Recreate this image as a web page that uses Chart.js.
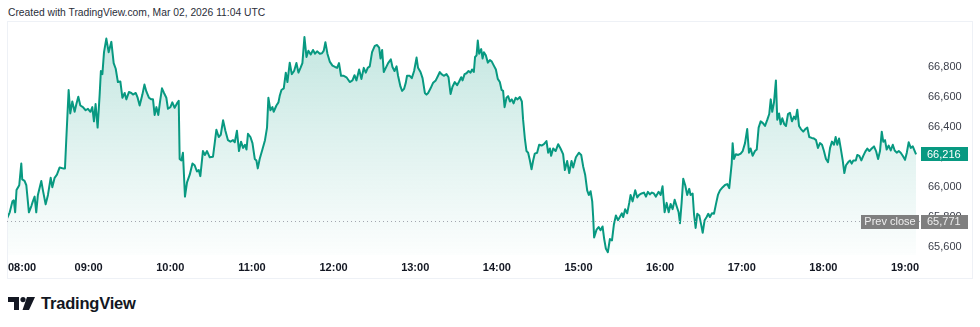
<!DOCTYPE html>
<html>
<head>
<meta charset="utf-8">
<script src="https://cdn.jsdelivr.net/npm/chart.js@4.4.1/dist/chart.umd.min.js"></script>
<style>
  html, body { margin: 0; padding: 0; background: #fff; }
  body { width: 980px; height: 327px; position: relative; overflow: hidden; font-family: "Liberation Sans", Arial, sans-serif; }
  #title { position: absolute; left: 8px; top: 6px; font-size: 10.3px; line-height: 13px; color: #2a2e39; white-space: nowrap; }
  #pane { position: absolute; left: 0; top: 21px; width: 980px; height: 258px; }
  #logo { position: absolute; left: 8px; top: 293px; height: 20px; display: flex; align-items: center; }
  #logo svg { margin-right: 6px; }
  #logo span { font-size: 16.5px; font-weight: bold; color: #131722; letter-spacing: -0.2px; }
</style>
</head>
<body>
<div id="title">Created with TradingView.com, Mar 02, 2026 11:04 UTC</div>
<div id="pane"><canvas id="chart" width="980" height="258"></canvas></div>
<div id="logo">
  <svg width="27" height="13" viewBox="0 0 27 13">
    <path d="M0 0H11V13H6V5H0Z" fill="#131722"/>
    <circle cx="15" cy="2.6" r="2.6" fill="#131722"/>
    <path d="M19 0H27L21 13H14.5Z" fill="#131722"/>
  </svg>
  <span>TradingView</span>
</div>
<script>
// minutes after 08:00 and last price at that minute
const minutes = [0,2,4,5,6,7,9,10.5,11.2,12.9,
  14.2,16.1,17.9,19,20.3,21.5,22.7,25.2,26.4,28.4,
  30.1,32.1,33.3,35,36.7,38.7,41.1,42.6,43.6,45.3,
  46.5,48,49.7,51,52.4,53.9,55.8,57.8,59.5,61.3,
  62.7,63.9,65.1,66.6,68.1,69,70.1,71.3,73,74.7,
  76.7,78.4,79.9,81.5,83.3,84.8,86.5,87.7,89.6,91.4,
  92.6,94.6,96,97.5,99.5,101,102.4,104.3,106.1,107.3,
  108.5,109.8,111.2,112.4,113.9,115.4,117.1,118.3,120.1,121.5,
  123.2,124.9,126.2,126.9,128.2,129.3,130.8,132.3,134.3,136.3,
  137.9,139.6,140.9,142.1,144,145.5,147,149,151.4,153.9,
  155.6,157.1,158.8,160.5,162.4,164.2,166.1,167.4,169,170.5,
  172,173.5,174.9,176,177.1,178.9,180.4,182.1,183.3,184.3,
  185.7,187.7,189.6,191.1,192.1,193.6,195.1,196,198,199.5,
  200.4,201.7,203.4,204.9,206.1,207.8,209.3,211,212.7,214.2,
  215.7,217.1,218.6,220.1,221.5,223.2,224.9,226.4,227.9,229.9,
  231.5,232.8,234,235.5,237.2,239.2,241.1,242.6,244,245.5,
  247.5,249.5,251.9,253.9,255.4,256.8,258.8,260.5,262.2,263.7,
  265.1,266.6,268.3,270.3,272,273.5,274.5,275.7,276.9,278.4,
  280.1,282.1,283.3,284.8,286.3,287.4,289.2,290.4,291.8,293.1,
  294,296,297.5,299.2,301,302.1,303.9,305.4,307.1,308.3,
  309.5,311.3,313.2,315.1,316.8,318.1,319.3,321,323,324.5,
  326,327.4,329.1,330.8,332.3,333.8,334.8,336.3,337.7,339.2,
  340.7,341.8,343.1,344,345.1,346,347,348.5,349.5,350.5,
  351.9,353.4,354.9,356.3,357.8,359.3,360.7,362.2,363.5,364.6,
  365.7,367.1,368.3,369.6,371,372.3,373.8,375.2,376.9,378.4,
  379.3,380.6,381.8,383,384.3,385.5,386.7,387.9,389.6,391.1,
  392.9,394.6,396.5,397.7,399,399.9,401.4,403.2,405.1,406.8,
  408.7,410,411.7,413.2,414.9,416.1,418.1,420.3,422,423.5,
  424.9,426.4,427.6,428.9,430.1,430.8,431.5,433.3,434.8,436.2,
  437.7,438.9,440.1,441.6,443.1,444.6,446,447.5,449,450.4,
  451.9,452.9,454.3,455.8,457.3,458.3,459.8,461.7,463.2,464.6,
  466.4,468.1,469.6,471,472.5,474,475.4,476.9,478.9,480.4,
  481.8,483.3,484.8,486.3,487.7,489.2,490.7,492.1,493.6,494.6,
  495.8,497,498.5,499.9,501.4,502.4,503.9,504.9,506.1,507.3,
  508.8,510.2,511.3,512.7,514.2,515.4,516.6,518.1,519.6,521,
  522.5,524,526,527.7,529.3,530.8,532.6,533.3,534.3,535.7,
  537.4,539.2,540.7,542.4,544,545.3,546.5,548,549.7,551,
  552.4,553.9,555.4,557.1,558.8,560.2,561.3,562.4,563.7,565.1,
  566.1,567.4,568.6,569.8,571.3,572.5,574,575.4,576.9,578.4,
  579.6,580.8,582.1,583.5,585.2,586.7,588.2,589.6,591.4,593.1,
  594.6,596,597.5,599,600.4,601.9,603.4,604.9,606.3,607.8,
  609,610.2,611.5,612.7,614.2,615.4,616.6,618.3,619.6,620.8,
  622,623.8,624.9,626.4,627.9,629.3,630.8,632.3,633.8,635.5,
  637.2,638.7,640.2,641.6,642.9,644,645.3,646.5,648,649.5,
  651,652.4,653.9,655.4,656.8,658.3,660,661.3,662.7,664.2,
  665.7,666.9,668.1];

const prices = [65787,65829,65902,65909,65829,65978,66010,66155,66049,66039,
  66010,65829,65871,65902,65934,65829,65945,66039,65976,65882,
  65945,66060,65997,66060,66081,66129,66123,66123,66323,66648,
  66491,66571,66502,66554,66602,66544,66533,66512,66522,66502,
  66533,66438,66554,66396,66617,66775,66754,66901,66992,66901,
  66970,66828,66790,66701,66705,66596,66628,66585,66634,66628,
  66617,66628,66596,66544,66617,66684,66638,66596,66585,66585,
  66481,66533,66481,66565,66659,66628,66596,66522,66533,66565,
  66529,66558,66575,66186,66176,66228,65934,66029,66081,66155,
  66144,66102,66112,66071,66239,66213,66239,66197,66201,66382,
  66333,66348,66445,66375,66312,66302,66312,66298,66375,66239,
  66302,66260,66281,66249,66355,66333,66292,66186,66176,66123,
  66186,66249,66312,66396,66596,66512,66533,66502,66544,66565,
  66607,66648,66659,66764,66701,66831,66754,66775,66828,66764,
  66796,66828,67002,66869,66911,66886,66916,66891,66907,66891,
  66894,66911,66968,66891,66838,66811,66802,66796,66828,66743,
  66743,66733,66701,66712,66747,66712,66785,66722,66796,66764,
  66796,66806,66901,66943,66949,66932,66859,66916,66768,66796,
  66828,66853,66802,66775,66806,66743,66670,66642,66655,66697,
  66743,66743,66727,66775,66865,66796,66768,66727,66628,66617,
  66628,66659,66697,66712,66743,66768,66754,66743,66754,66733,
  66621,66670,66701,66680,66705,66733,66712,66754,66760,66775,
  66764,66785,66768,66869,66880,66979,66891,66922,66859,66901,
  66880,66831,66848,66838,66811,66785,66722,66701,66648,66642,
  66533,66596,66607,66571,66585,66558,66596,66585,66601,66571,
  66449,66323,66239,66228,66176,66117,66176,66222,66228,66281,
  66276,66285,66306,66228,66256,66207,66256,66239,66285,66256,
  66218,66112,66172,66092,66172,66129,66197,66228,66213,66134,
  66081,65976,65945,65970,65902,65797,65661,65713,65730,65709,
  65734,65650,65587,65562,65650,65640,65745,65808,65776,65797,
  65822,65797,65850,65822,65892,65945,65902,65976,65928,65945,
  65955,65961,65934,65966,65949,65961,65955,65934,65966,65945,
  66003,65829,65892,65829,65885,65850,65913,65871,65829,65756,
  65892,66054,66008,65945,65986,65945,65955,65819,65724,65819,
  65808,65745,65692,65776,65797,65819,65797,65822,65819,65882,
  65945,65976,65997,66012,66018,65991,66155,66292,66186,66218,
  66213,66222,66239,66292,66386,66228,66256,66207,66239,66249,
  66396,66438,66428,66407,66449,66487,66585,66502,66565,66712,
  66449,66491,66418,66459,66418,66407,66487,66495,66438,66470,
  66453,66516,66407,66386,66369,66386,66396,66333,66327,66323,
  66312,66260,66292,66281,66239,66186,66165,66260,66302,66281,
  66333,66281,66323,66260,66176,66092,66144,66165,66176,66155,
  66176,66176,66213,66207,66176,66207,66235,66256,66239,66256,
  66270,66239,66186,66239,66369,66302,66312,66249,66276,66243,
  66281,66243,66228,66239,66228,66207,66180,66228,66298,66260,
  66270,66243,66216];

const hourTicks = [0, 60, 120, 180, 240, 300, 360, 420, 480, 540, 600, 660];
const hourLabels = ["08:00", "09:00", "10:00", "11:00", "12:00", "13:00", "14:00", "15:00", "16:00", "17:00", "18:00", "19:00"];
const priceTicks = [65600, 65800, 66000, 66200, 66400, 66600, 66800];
const prevClose = 65771;
const lastPrice = prices[prices.length - 1];

const GREEN = "#089981";
const GREY_TAG = "#7f7f7f";
const FONT = '"Liberation Sans", Arial, sans-serif';
const fmt = (v) => Math.round(v).toLocaleString("en-US");

// tags, prev close line, time labels and pane border
const overlay = {
  id: "overlay",
  afterDraw(chart) {
    const { ctx, chartArea } = chart;
    const xs = chart.scales.x;
    const ys = chart.scales.y;

    ctx.save();
    ctx.strokeStyle = "#eef1f6";
    ctx.lineWidth = 1;
    ctx.strokeRect(7.5, 0.5, 965, 257);

    // prev close dotted line
    const yPrev = Math.round(ys.getPixelForValue(prevClose)) + 0.5;
    ctx.strokeStyle = "#a3a6af";
    ctx.setLineDash([1, 3]);
    ctx.beginPath();
    ctx.moveTo(chartArea.left, yPrev);
    ctx.lineTo(chartArea.right, yPrev);
    ctx.stroke();
    ctx.setLineDash([]);

    ctx.font = "11px " + FONT;
    ctx.textBaseline = "middle";

    const tag = (x, y, w, bg, fg, text, align) => {
      ctx.fillStyle = bg;
      ctx.fillRect(x, Math.round(y - 7), w, 14);
      ctx.fillStyle = fg;
      ctx.textAlign = align;
      ctx.fillText(text, align === "left" ? x + 6 : x + w / 2, y + 0.5);
    };

    tag(861, yPrev, 58, GREY_TAG, "#eeeeee", "Prev close", "center");
    tag(921, yPrev, 47, GREY_TAG, "#eeeeee", fmt(prevClose), "left");
    tag(921, ys.getPixelForValue(lastPrice), 47, GREEN, "#ffffff", fmt(lastPrice), "left");

    // time axis labels, first one kept inside the pane
    ctx.font = "bold 11px " + FONT;
    ctx.fillStyle = "#131722";
    ctx.textAlign = "center";
    hourTicks.forEach((t, i) => {
      const w = ctx.measureText(hourLabels[i]).width;
      let px = xs.getPixelForValue(t);
      if (px - w / 2 < chartArea.left + 1) px = chartArea.left + 1 + w / 2;
      ctx.fillText(hourLabels[i], px, chartArea.bottom + 13);
    });
    ctx.restore();
  },
};

const canvas = document.getElementById("chart");
new Chart(canvas, {
  type: "line",
  data: {
    datasets: [
      {
        data: minutes.map((m, i) => ({ x: m, y: prices[i] })),
        borderColor: GREEN,
        borderWidth: 2,
        borderJoinStyle: "round",
        pointRadius: 0,
        tension: 0,
        fill: "start",
        backgroundColor: (c) => {
          const area = c.chart.chartArea;
          if (!area) return "rgba(8,153,129,0.1)";
          const g = c.chart.ctx.createLinearGradient(0, area.top, 0, area.bottom);
          g.addColorStop(0, "rgba(8,153,129,0.24)");
          g.addColorStop(1, "rgba(8,153,129,0.01)");
          return g;
        },
      },
    ],
  },
  options: {
    responsive: false,
    animation: false,
    events: [],
    layout: { autoPadding: false, padding: { left: 7, top: 1, right: 0, bottom: 0 } },
    plugins: { legend: { display: false }, tooltip: { enabled: false } },
    scales: {
      x: {
        type: "linear",
        min: 0,
        max: 671,
        grid: { display: false },
        border: { display: false },
        ticks: { display: false },
        afterBuildTicks: (s) => { s.ticks = hourTicks.map((v) => ({ value: v })); },
        afterFit: (s) => { s.height = 24; },
      },
      y: {
        position: "right",
        min: 65543,
        max: 67012,
        grid: { display: false, drawTicks: false },
        border: { display: false },
        ticks: {
          padding: 8,
          color: "#3b3f4a",
          font: { family: FONT, size: 11 },
          callback: (v) => fmt(v),
        },
        afterBuildTicks: (s) => { s.ticks = priceTicks.map((v) => ({ value: v })); },
        afterFit: (s) => { s.width = 60; },
      },
    },
  },
  plugins: [overlay],
});
</script>
</body>
</html>
